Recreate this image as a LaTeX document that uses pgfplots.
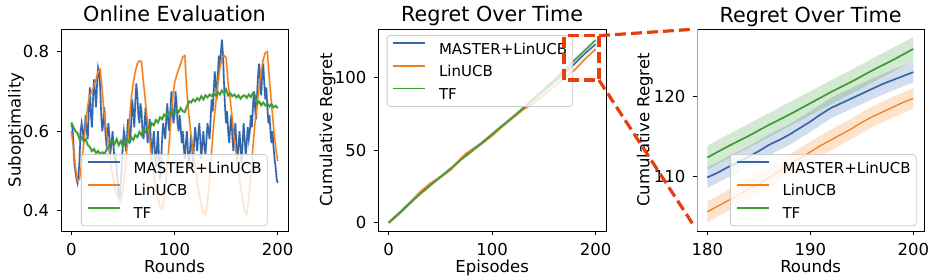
\documentclass[border=0pt]{standalone}
\usepackage{fontspec}
\setmainfont{DejaVu Sans}
\usepackage{pgfplots}
\pgfplotsset{compat=1.18}
\usepackage{pgfplotstable}

\definecolor{cB}{RGB}{52,102,172}
\definecolor{cO}{RGB}{245,127,23}
\definecolor{cG}{RGB}{60,155,50}
\definecolor{cR}{RGB}{232,62,14}
\definecolor{lgray}{RGB}{204,204,204}

\newcommand{\titlefont}{\fontsize{20.7}{24}\selectfont}
\pgfplotsset{
 base/.style={
  scale only axis, width=227pt, height=202pt, anchor=south west,
  axis line style={line width=0.9pt},
  tick align=outside, major tick length=4pt,
  every tick/.style={black, line width=0.9pt},
  xtick pos=bottom, ytick pos=left,
  /pgf/number format/assume math mode=true,
  ticklabel style={font=\fontsize{16.5}{19}\selectfont},
  xticklabel style={anchor=north, inner sep=0pt, yshift=-8.5pt},
  yticklabel style={anchor=east, inner sep=0pt, xshift=-7.7pt},
  label style={font=\fontsize{16.5}{19}\selectfont, inner sep=0pt},
  xlabel style={at={(axis description cs:0.5,-0.205)}, anchor=base},
  legend cell align=left,
  legend image code/.code={\draw[##1] (0pt,5.5pt) -- (32pt,5.5pt); \path (45pt,5.5pt);},
  legend style={fill=white, fill opacity=0.8, draw opacity=1, text opacity=1,
    draw=lgray, line width=0.8pt, rounded corners=3pt, anchor=north west,
    font=\fontsize{15}{18}\selectfont, inner xsep=5.5pt, inner ysep=7pt, row sep=11pt,
    nodes={inner sep=0pt, text height=11pt, text depth=0pt}},
 }
}

% ---------- Panel 1 data ----------
\pgfplotstableread[row sep=\\]{
r v\\
0 0.615\\ 1 0.61\\ 2 0.57\\ 3 0.52\\ 4 0.50\\ 5 0.48\\ 6 0.47\\ 7 0.49\\ 8 0.53\\ 9 0.60\\
10 0.62\\ 11 0.60\\ 12 0.58\\ 13 0.61\\ 14 0.64\\ 15 0.60\\ 16 0.58\\ 17 0.66\\ 18 0.71\\ 19 0.64\\
20 0.61\\ 21 0.68\\ 22 0.73\\ 23 0.70\\ 24 0.66\\ 25 0.72\\ 26 0.76\\ 27 0.75\\ 28 0.71\\ 29 0.64\\
30 0.60\\ 31 0.62\\ 32 0.66\\ 33 0.60\\ 34 0.57\\ 35 0.59\\ 36 0.62\\ 37 0.58\\ 38 0.55\\ 39 0.57\\
40 0.60\\ 41 0.56\\ 42 0.52\\ 43 0.54\\ 44 0.50\\ 45 0.47\\ 46 0.44\\ 47 0.43\\ 48 0.47\\ 49 0.52\\
50 0.57\\ 51 0.60\\ 52 0.58\\ 53 0.55\\ 54 0.59\\ 55 0.63\\ 56 0.60\\ 57 0.57\\ 58 0.62\\ 59 0.68\\
60 0.65\\ 61 0.61\\ 62 0.67\\ 63 0.72\\ 64 0.69\\ 65 0.64\\ 66 0.62\\ 67 0.67\\ 68 0.65\\ 69 0.60\\
70 0.58\\ 71 0.62\\ 72 0.66\\ 73 0.61\\ 74 0.57\\ 75 0.60\\ 76 0.63\\ 77 0.58\\ 78 0.54\\ 79 0.57\\
80 0.60\\ 81 0.55\\ 82 0.51\\ 83 0.56\\ 84 0.60\\ 85 0.53\\ 86 0.48\\ 87 0.52\\ 88 0.58\\ 89 0.62\\
90 0.60\\ 91 0.58\\ 92 0.63\\ 93 0.67\\ 94 0.62\\ 95 0.60\\ 96 0.65\\ 97 0.70\\ 98 0.66\\ 99 0.62\\
100 0.64\\ 101 0.70\\ 102 0.67\\ 103 0.62\\ 104 0.60\\ 105 0.64\\ 106 0.61\\ 107 0.57\\ 108 0.60\\ 109 0.56\\
110 0.53\\ 111 0.57\\ 112 0.60\\ 113 0.55\\ 114 0.51\\ 115 0.55\\ 116 0.59\\ 117 0.56\\ 118 0.52\\ 119 0.57\\
120 0.61\\ 121 0.58\\ 122 0.55\\ 123 0.59\\ 124 0.62\\ 125 0.58\\ 126 0.53\\ 127 0.57\\ 128 0.60\\ 129 0.56\\
130 0.54\\ 131 0.58\\ 132 0.62\\ 133 0.60\\ 134 0.58\\ 135 0.63\\ 136 0.68\\ 137 0.65\\ 138 0.70\\ 139 0.75\\
140 0.72\\ 141 0.68\\ 142 0.74\\ 143 0.79\\ 144 0.76\\ 145 0.80\\ 146 0.83\\ 147 0.79\\ 148 0.72\\ 149 0.66\\
150 0.62\\ 151 0.65\\ 152 0.60\\ 153 0.57\\ 154 0.61\\ 155 0.64\\ 156 0.59\\ 157 0.55\\ 158 0.58\\ 159 0.62\\
160 0.57\\ 161 0.53\\ 162 0.56\\ 163 0.60\\ 164 0.56\\ 165 0.52\\ 166 0.57\\ 167 0.62\\ 168 0.58\\ 169 0.54\\
170 0.57\\ 171 0.61\\ 172 0.58\\ 173 0.60\\ 174 0.64\\ 175 0.61\\ 176 0.66\\ 177 0.70\\ 178 0.66\\ 179 0.63\\
180 0.69\\ 181 0.74\\ 182 0.77\\ 183 0.73\\ 184 0.69\\ 185 0.74\\ 186 0.77\\ 187 0.72\\ 188 0.68\\ 189 0.71\\
190 0.66\\ 191 0.62\\ 192 0.64\\ 193 0.60\\ 194 0.57\\ 195 0.60\\ 196 0.56\\ 197 0.53\\ 198 0.51\\ 199 0.48\\
200 0.47\\
}\tabMa

\pgfplotstableread[row sep=\\]{
r v\\
0 0.60\\ 2 0.56\\ 4 0.51\\ 6 0.475\\ 8 0.48\\ 10 0.52\\ 12 0.57\\ 14 0.62\\ 16 0.665\\ 18 0.69\\
20 0.70\\ 22 0.715\\ 24 0.73\\ 26 0.75\\ 28 0.755\\ 30 0.70\\ 32 0.64\\ 34 0.60\\ 36 0.56\\ 38 0.525\\
40 0.49\\ 42 0.46\\ 44 0.44\\ 46 0.43\\ 48 0.425\\ 50 0.45\\ 52 0.50\\ 54 0.56\\ 56 0.62\\ 58 0.68\\
60 0.72\\ 62 0.75\\ 64 0.77\\ 66 0.777\\ 68 0.775\\ 70 0.72\\ 72 0.67\\ 74 0.62\\ 76 0.58\\ 78 0.53\\
80 0.49\\ 82 0.455\\ 84 0.43\\ 86 0.41\\ 88 0.405\\ 90 0.43\\ 92 0.48\\ 94 0.54\\ 96 0.61\\ 98 0.68\\
100 0.72\\ 102 0.74\\ 104 0.755\\ 106 0.77\\ 108 0.787\\ 110 0.79\\ 112 0.70\\ 114 0.64\\ 116 0.59\\ 118 0.55\\
120 0.51\\ 122 0.47\\ 124 0.44\\ 126 0.415\\ 128 0.395\\ 130 0.39\\ 132 0.42\\ 134 0.48\\ 136 0.55\\ 138 0.62\\
140 0.67\\ 142 0.72\\ 144 0.76\\ 146 0.785\\ 148 0.79\\ 150 0.785\\ 152 0.72\\ 154 0.68\\ 156 0.63\\ 158 0.58\\
160 0.54\\ 162 0.50\\ 164 0.46\\ 166 0.43\\ 168 0.40\\ 170 0.39\\ 172 0.43\\ 174 0.49\\ 176 0.56\\ 178 0.62\\
180 0.665\\ 182 0.71\\ 184 0.75\\ 186 0.78\\ 188 0.797\\ 190 0.80\\ 192 0.73\\ 194 0.67\\ 196 0.61\\ 198 0.56\\
200 0.525\\
}\tabLa

\pgfplotstableread[row sep=\\]{
r v\\
0 0.622\\ 2 0.61\\ 4 0.60\\ 6 0.595\\ 8 0.58\\ 10 0.585\\ 12 0.575\\ 14 0.58\\ 16 0.565\\ 18 0.56\\
20 0.55\\ 22 0.555\\ 24 0.545\\ 26 0.55\\ 28 0.542\\ 30 0.547\\ 32 0.543\\ 34 0.552\\ 36 0.56\\ 38 0.572\\
40 0.575\\ 42 0.568\\ 44 0.58\\ 46 0.565\\ 48 0.575\\ 50 0.562\\ 52 0.57\\ 54 0.58\\ 56 0.572\\ 58 0.585\\
60 0.578\\ 62 0.59\\ 64 0.585\\ 66 0.598\\ 68 0.59\\ 70 0.605\\ 72 0.598\\ 74 0.61\\ 76 0.605\\ 78 0.62\\
80 0.615\\ 82 0.628\\ 84 0.622\\ 86 0.635\\ 88 0.63\\ 90 0.642\\ 92 0.636\\ 94 0.648\\ 96 0.64\\ 98 0.652\\
100 0.645\\ 102 0.655\\ 104 0.648\\ 106 0.658\\ 108 0.65\\ 110 0.648\\ 112 0.662\\ 114 0.675\\ 116 0.672\\ 118 0.68\\
120 0.675\\ 122 0.683\\ 124 0.678\\ 126 0.688\\ 128 0.68\\ 130 0.69\\ 132 0.685\\ 134 0.692\\ 136 0.688\\ 138 0.695\\
140 0.69\\ 142 0.698\\ 144 0.692\\ 146 0.702\\ 148 0.695\\ 150 0.705\\ 152 0.69\\ 154 0.695\\ 156 0.688\\ 158 0.692\\
160 0.685\\ 162 0.69\\ 164 0.682\\ 166 0.688\\ 168 0.69\\ 170 0.684\\ 172 0.692\\ 174 0.686\\ 176 0.695\\ 178 0.69\\
180 0.668\\ 182 0.675\\ 184 0.665\\ 186 0.672\\ 188 0.665\\ 190 0.67\\ 192 0.662\\ 194 0.668\\ 196 0.66\\ 198 0.664\\
200 0.658\\
}\tabTa

% ---------- Panel 2 data ----------
\pgfplotstableread[row sep=\\]{
r v\\
0 0\\ 10 6.5\\ 20 13.5\\ 30 20.5\\ 40 26.5\\ 50 31.5\\ 60 37\\ 70 44\\ 80 50\\ 90 55\\ 100 61\\
110 67\\ 120 72.5\\ 130 79\\ 140 85\\ 150 91\\ 160 97\\ 170 103.2\\ 180 109.9\\ 190 116.9\\ 200 123.1\\
}\tabMb
\pgfplotstableread[row sep=\\]{
r v\\
0 0\\ 10 6\\ 20 13\\ 30 21\\ 40 27\\ 50 31.5\\ 60 36.5\\ 70 44.5\\ 75 48\\ 80 50\\ 90 54.5\\ 100 60\\
110 66.5\\ 120 72.5\\ 130 78\\ 140 82.5\\ 150 88\\ 160 94\\ 170 99.5\\ 180 105.6\\ 190 113.1\\ 200 119.8\\
}\tabLb
\pgfplotstableread[row sep=\\]{
r v\\
0 0\\ 10 6.5\\ 20 13\\ 30 19.5\\ 40 25.5\\ 50 31.5\\ 60 37.5\\ 70 43.5\\ 80 49\\ 90 55\\ 100 61\\
110 67\\ 120 73\\ 130 79\\ 140 85.5\\ 150 92\\ 160 98.5\\ 170 105.5\\ 180 112.4\\ 190 119.2\\ 200 126.0\\
}\tabTb

% ---------- Panel 3 data (mean) ----------
\pgfplotstableread[row sep=\\]{
r v\\
180 109.9\\ 181 110.5\\ 182 111.2\\ 183 111.8\\ 184 112.5\\ 185 113.2\\ 186 114.0\\ 187 114.6\\
188 115.3\\ 189 116.1\\ 190 116.9\\ 191 117.8\\ 192 118.6\\ 193 119.2\\ 194 119.8\\ 195 120.4\\
196 121.0\\ 197 121.6\\ 198 122.1\\ 199 122.6\\ 200 123.1\\
}\tabMc
\pgfplotstableread[row sep=\\]{
r v\\
180 105.6\\ 181 106.3\\ 182 107.0\\ 183 107.7\\ 184 108.4\\ 185 109.1\\ 186 109.9\\ 187 110.7\\
188 111.5\\ 189 112.3\\ 190 113.1\\ 191 113.9\\ 192 114.6\\ 193 115.3\\ 194 116.0\\ 195 116.8\\
196 117.5\\ 197 118.1\\ 198 118.7\\ 199 119.3\\ 200 119.8\\
}\tabLc
\pgfplotstableread[row sep=\\]{
r v\\
180 112.4\\ 182 113.8\\ 184 115.1\\ 186 116.5\\ 188 117.8\\ 190 119.2\\ 192 120.6\\ 194 121.9\\
196 123.3\\ 198 124.6\\ 200 126.0\\
}\tabTc
% ---------- Panel 3 bands (lower edge, then upper edge back) ----------
\pgfplotstableread[row sep=\\]{
r v\\
180 108.6\\ 182 109.9\\ 184 111.2\\ 186 112.7\\ 188 114.0\\ 190 115.6\\ 192 117.3\\ 194 118.5\\ 196 119.7\\ 198 120.8\\ 200 121.8\\
200 124.4\\ 198 123.4\\ 196 122.3\\ 194 121.1\\ 192 119.9\\ 190 118.2\\ 188 116.6\\ 186 115.3\\ 184 113.8\\ 182 112.5\\ 180 111.2\\
}\bandM
\pgfplotstableread[row sep=\\]{
r v\\
180 104.3\\ 182 105.7\\ 184 107.1\\ 186 108.6\\ 188 110.2\\ 190 111.8\\ 192 113.3\\ 194 114.7\\ 196 116.2\\ 198 117.4\\ 200 118.5\\
200 121.1\\ 198 120.0\\ 196 118.8\\ 194 117.3\\ 192 115.9\\ 190 114.4\\ 188 112.8\\ 186 111.2\\ 184 109.7\\ 182 108.3\\ 180 106.9\\
}\bandL
\pgfplotstableread[row sep=\\]{
r v\\
180 110.9\\ 190 117.7\\ 200 124.5\\ 200 127.5\\ 190 120.7\\ 180 113.9\\
}\bandT

\begin{document}
\begin{tikzpicture}
\useasboundingbox (0,0) rectangle (937pt,279pt);

% ================= Panel 1 =================
\begin{axis}[base, name=ax1, at={(61pt,48pt)},
  xmin=-10, xmax=210, ymin=0.349, ymax=0.857,
  xtick={0,100,200}, ytick={0.4,0.6,0.8},
  yticklabel style={/pgf/number format/.cd, fixed, fixed zerofill, precision=1},
  xlabel={Rounds}, ylabel={Suboptimality},
  ylabel style={at={(axis description cs:-0.1775,0.5)}, anchor=base},
  legend style={at={(axis description cs:0.088,0.381)}},
]
\addplot[cB, line width=2.6pt, opacity=0.15, forget plot] table[x=r,y=v]{\tabMa};
\addplot[cO, line width=2.8pt, opacity=0.15, forget plot] table[x=r,y=v]{\tabLa};
\addplot[cG, line width=3.2pt, opacity=0.18, forget plot] table[x=r,y=v]{\tabTa};
\addplot[cB, line width=1.6pt] table[x=r,y=v]{\tabMa};
\addlegendentry{MASTER+LinUCB}
\addplot[cO, line width=1.4pt] table[x=r,y=v]{\tabLa};
\addlegendentry{LinUCB}
\addplot[cG, line width=1.7pt] table[x=r,y=v]{\tabTa};
\addlegendentry{TF}
\end{axis}
\node[anchor=base, font=\titlefont, inner sep=0pt] at ([yshift=7pt]ax1.north) {Online Evaluation};

% ================= Panel 2 =================
\begin{axis}[base, name=ax2, at={(378.3pt,48pt)}, width=227.7pt,
  xmin=-10, xmax=210, ymin=-5.7, ymax=133.6,
  xtick={0,100,200}, ytick={0,50,100},
  xlabel={Episodes}, ylabel={Cumulative Regret},
  ylabel style={at={(axis description cs:-0.2033,0.5)}, anchor=base},
  legend style={at={(axis description cs:0.037,0.970)}},
]
\addplot[cB, line width=3pt, opacity=0.18, forget plot] table[x=r,y=v]{\tabMb};
\addplot[cO, line width=3pt, opacity=0.18, forget plot] table[x=r,y=v]{\tabLb};
\addplot[cG, line width=3pt, opacity=0.18, forget plot] table[x=r,y=v]{\tabTb};
\addplot[cB, line width=1.4pt] table[x=r,y=v]{\tabMb};
\addlegendentry{MASTER+LinUCB}
\addplot[cO, line width=1.4pt] table[x=r,y=v]{\tabLb};
\addlegendentry{LinUCB}
\addplot[cG, line width=1.4pt] table[x=r,y=v]{\tabTb};
\addlegendentry{TF}
\coordinate (rbl) at (axis cs:169.5,98.4);
\coordinate (rtr) at (axis cs:203.2,129);
\coordinate (rbr) at (axis cs:203.2,98.4);
\end{axis}
\node[anchor=base, font=\titlefont, inner sep=0pt] at ([yshift=7pt]ax2.north) {Regret Over Time};

% ================= Panel 3 =================
\begin{axis}[base, name=ax3, at={(697.3pt,48pt)}, width=226.7pt,
  xmin=179.03, xmax=201.04, ymin=103.2, ymax=128.5,
  xtick={180,190,200}, ytick={110,120},
  xlabel={Rounds}, ylabel={Cumulative Regret},
  ylabel style={at={(axis description cs:-0.2117,0.5)}, anchor=base},
  legend style={at={(axis description cs:0.144,0.381)}},
]
\addplot[draw=none, fill=cB, fill opacity=0.22, forget plot] table[x=r,y=v]{\bandM};
\addplot[draw=none, fill=cO, fill opacity=0.22, forget plot] table[x=r,y=v]{\bandL};
\addplot[draw=none, fill=cG, fill opacity=0.22, forget plot] table[x=r,y=v]{\bandT};
\addplot[cB, line width=1.7pt] table[x=r,y=v]{\tabMc};
\addlegendentry{MASTER+LinUCB}
\addplot[cO, line width=1.3pt] table[x=r,y=v]{\tabLc};
\addlegendentry{LinUCB}
\addplot[cG, line width=1.7pt] table[x=r,y=v]{\tabTc};
\addlegendentry{TF}
\end{axis}
\node[anchor=base, font=\titlefont, inner sep=0pt] at ([yshift=7pt]ax3.north) {Regret Over Time};
\draw[gray!70, line width=1.3pt] (ax3.south west) -- (ax3.north west);

% ================= zoom indicator =================
\draw[cR, line width=3.2pt, dash pattern=on 11pt off 5pt] (rbl) rectangle (rtr);
\draw[cR, line width=3.2pt, dash pattern=on 11pt off 5pt, shorten >=4pt] (rtr) -- (ax3.north west);
\draw[cR, line width=3.2pt, dash pattern=on 11pt off 5pt, shorten >=5pt] (rbr) -- (ax3.south west);
\end{tikzpicture}
\end{document}
